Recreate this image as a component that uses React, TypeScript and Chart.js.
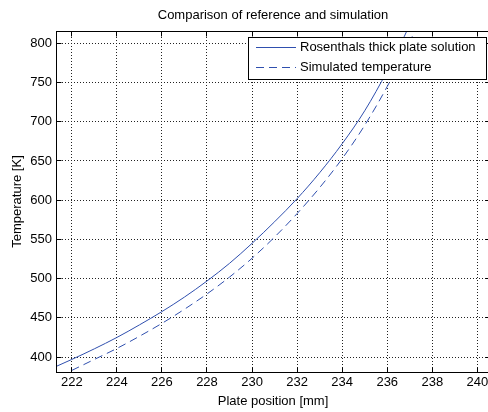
import { useEffect, useRef } from "react";
import { Chart, registerables } from "chart.js";

Chart.register(...registerables);

// Analytical (Rosenthal) temperature profile along the plate
const rosenthalPos = [221.3, 222, 223, 224, 225, 226, 227, 228, 229, 230, 231, 232, 233, 234, 235, 236, 237, 238];
const rosenthalTemp = [388, 397, 410.5, 425, 441, 458, 476.5, 497, 519.5, 545, 572.5, 602, 635, 672, 714, 765, 824, 893];

// Simulated temperature profile
const simulatedPos = [222, 223, 224, 225, 226, 227, 228, 229, 230, 231, 232, 233, 234, 235, 236, 237, 238];
const simulatedTemp = [383, 397, 411, 426.5, 443, 461, 480.5, 502, 526, 553, 583, 616, 653, 695.5, 745, 802, 867];

const xTicks = [222, 224, 226, 228, 230, 232, 234, 236, 238, 240];
const yTicks = [400, 450, 500, 550, 600, 650, 700, 750, 800];

const seriesNames = ["Rosenthals thick plate solution", "Simulated temperature"];
const chartTitle = "Comparison of reference and simulation";
const xTitle = "Plate position [mm]";
const yTitle = "Temperature [K]";

const LINE_COLOR = "#2f4fae";
const FAMILY = "'Liberation Sans', Arial, sans-serif";
const FONT = `13px ${FAMILY}`;

const align = (p: number) => Math.round(p - 0.5) + 0.5;

// Axes box, inward tick marks, titles and the boxed legend
const decorPlugin = {
  id: "decor",
  afterDraw(chart: any) {
    const { ctx, chartArea: a, scales } = chart;
    const left = align(a.left);
    const top = align(a.top);
    const right = align(a.right);
    const bottom = align(a.bottom);
    ctx.save();
    ctx.strokeStyle = "#000";
    ctx.lineWidth = 1;
    ctx.setLineDash([]);
    ctx.strokeRect(left, top, right - left, bottom - top);

    const tl = 5;
    ctx.beginPath();
    scales.x.ticks.forEach((t: any) => {
      const px = align(scales.x.getPixelForValue(t.value));
      ctx.moveTo(px, bottom);
      ctx.lineTo(px, bottom - tl);
      ctx.moveTo(px, top);
      ctx.lineTo(px, top + tl);
    });
    scales.y.ticks.forEach((t: any) => {
      const py = align(scales.y.getPixelForValue(t.value));
      ctx.moveTo(left, py);
      ctx.lineTo(left + tl, py);
      ctx.moveTo(right, py);
      ctx.lineTo(right - tl, py);
    });
    ctx.stroke();

    // titles
    ctx.fillStyle = "#000";
    ctx.font = FONT;
    ctx.textAlign = "center";
    ctx.textBaseline = "middle";
    const cx = (a.left + a.right) / 2;
    ctx.fillText(chartTitle, cx, 15);
    ctx.fillText(xTitle, cx, 401);
    ctx.save();
    ctx.translate(17.5, (a.top + a.bottom) / 2);
    ctx.rotate(-Math.PI / 2);
    ctx.fillText(yTitle, 0, 0);
    ctx.restore();

    // legend
    const lx = 248.5;
    const ly = 37.5;
    const lw = 238;
    const lh = 42;
    ctx.fillStyle = "#fff";
    ctx.fillRect(lx, ly, lw, lh);
    ctx.strokeStyle = "#000";
    ctx.strokeRect(lx, ly, lw, lh);
    chart.data.datasets.forEach((ds: any, i: number) => {
      const y = 47.5 + i * 20;
      ctx.strokeStyle = ds.borderColor;
      ctx.lineWidth = 1;
      ctx.setLineDash(ds.borderDash || []);
      ctx.beginPath();
      ctx.moveTo(256, y);
      ctx.lineTo(296, y);
      ctx.stroke();
      ctx.setLineDash([]);
      ctx.fillStyle = "#000";
      ctx.textAlign = "left";
      ctx.textBaseline = "middle";
      ctx.fillText(ds.label, 300, y);
    });
    ctx.restore();
  },
};

export default function App() {
  const canvasRef = useRef<HTMLCanvasElement | null>(null);

  useEffect(() => {
    const canvas = canvasRef.current;
    if (!canvas) return;
    const chart = new Chart(canvas, {
      type: "line",
      data: {
        datasets: [
          {
            label: seriesNames[0],
            data: rosenthalPos.map((x, i) => ({ x, y: rosenthalTemp[i] })),
            borderColor: LINE_COLOR,
            borderWidth: 1,
            pointRadius: 0,
            fill: false,
            cubicInterpolationMode: "monotone",
          },
          {
            label: seriesNames[1],
            data: simulatedPos.map((x, i) => ({ x, y: simulatedTemp[i] })),
            borderColor: LINE_COLOR,
            borderWidth: 1,
            borderDash: [8, 5],
            pointRadius: 0,
            fill: false,
            cubicInterpolationMode: "monotone",
          },
        ],
      },
      options: {
        animation: false,
        responsive: false,
        devicePixelRatio: 1,
        layout: { padding: { top: 31, right: 1, left: 0, bottom: 0 } },
        plugins: {
          legend: { display: false },
          title: { display: false },
          tooltip: { enabled: false },
        },
        scales: {
          x: {
            type: "linear",
            min: 221.3,
            max: 240.56,
            afterBuildTicks: (s: any) => {
              s.ticks = xTicks.map((v) => ({ value: v }));
            },
            afterFit: (s: any) => {
              s.height = 40;
              s.paddingLeft = 0;
              s.paddingRight = 0;
            },
            ticks: {
              color: "#000",
              font: { family: FAMILY, size: 13 },
              padding: 3,
              maxRotation: 0,
              autoSkip: false,
            },
            grid: { color: "#222", lineWidth: 1, drawTicks: false },
            border: { display: false, dash: [1, 2] },
          },
          y: {
            type: "linear",
            min: 381,
            max: 815.7,
            afterBuildTicks: (s: any) => {
              s.ticks = yTicks.map((v) => ({ value: v }));
            },
            afterFit: (s: any) => {
              s.width = 56;
              s.paddingTop = 0;
              s.paddingBottom = 0;
            },
            ticks: {
              color: "#000",
              font: { family: FAMILY, size: 13 },
              padding: 4,
              autoSkip: false,
            },
            grid: { color: "#222", lineWidth: 1, drawTicks: false },
            border: { display: false, dash: [1, 2] },
          },
        },
      },
      plugins: [decorPlugin],
    });
    return () => chart.destroy();
  }, []);

  return (
    <div
      style={{
        position: "fixed",
        left: 0,
        top: 0,
        width: 488,
        height: 412,
        overflow: "hidden",
        background: "#fff",
      }}
    >
      <canvas
        ref={canvasRef}
        width={491}
        height={412}
        style={{ display: "block", width: 491, height: 412 }}
      />
    </div>
  );
}
